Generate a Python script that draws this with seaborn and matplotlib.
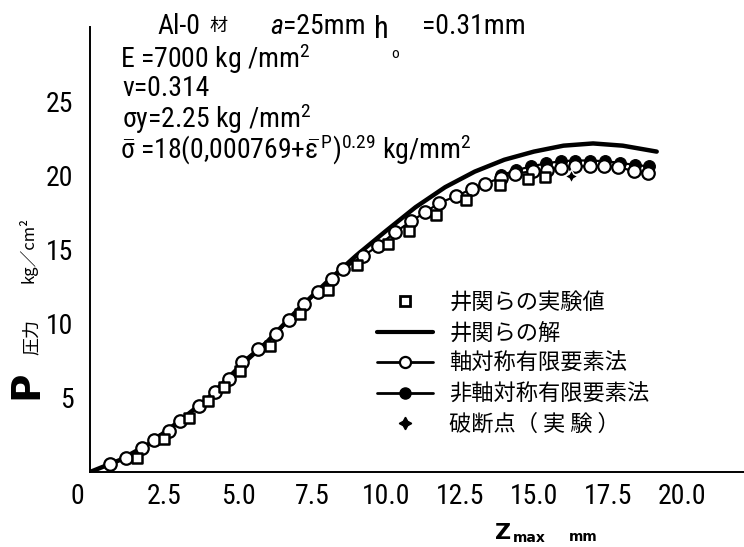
import numpy as np
import pandas as pd
import matplotlib
matplotlib.use("Agg")
import matplotlib.pyplot as plt
from matplotlib import font_manager
from matplotlib.transforms import ScaledTranslation
from matplotlib.lines import Line2D
import seaborn as sns

# ---- data -------------------------------------------------------------
# Experimental values (Iseki et al.)
exp_z = [1.58, 2.50, 3.35, 4.00, 4.54, 5.07, 6.08, 7.09, 8.05, 9.01,
         10.08, 10.79, 11.69, 12.70, 13.85, 14.81, 15.37]
exp_p = [0.97, 2.22, 3.64, 4.81, 5.71, 6.84, 8.49, 10.68, 12.26, 13.96,
         15.36, 16.28, 17.34, 18.36, 19.33, 19.72, 19.90]

# Analytical solution (Iseki et al.)
sol_z = [0, 1, 2, 3, 4, 5, 6, 7, 8, 9, 10, 11, 12, 13, 14, 15, 16, 17, 18, 19.15]
sol_p = [0, 0.8, 1.9, 3.4, 5.0, 7.0, 8.8, 10.9, 12.8, 14.6, 16.25, 17.85,
         19.2, 20.25, 21.05, 21.6, 22.0, 22.15, 22.0, 21.6]

# Axisymmetric FEM
axi_z = [0.68, 1.21, 1.75, 2.16, 2.67, 3.04, 3.69, 4.22, 4.70, 5.12, 5.67,
         6.28, 6.72, 7.24, 7.71, 8.19, 8.56, 9.23, 9.74, 10.30, 10.84, 11.32,
         11.80, 12.36, 12.90, 13.34, 13.89, 14.36, 14.98, 15.43, 15.90, 16.39,
         16.89, 17.36, 17.85, 18.39, 18.86]
axi_p = [0.54, 0.97, 1.61, 2.15, 2.78, 3.46, 4.47, 5.37, 6.28, 7.41, 8.31,
         9.28, 10.23, 11.31, 12.15, 12.99, 13.67, 14.57, 15.24, 16.15, 16.89,
         17.50, 18.14, 18.58, 19.09, 19.44, 19.83, 20.12, 20.28, 20.39, 20.51,
         20.60, 20.62, 20.62, 20.55, 20.28, 20.17]

# Non-axisymmetric FEM
nax_z = [13.9, 14.4, 14.9, 15.4, 15.9, 16.4, 16.9, 17.4, 17.9, 18.4, 18.9]
nax_p = [20.0, 20.35, 20.6, 20.8, 20.95, 21.0, 21.0, 20.95, 20.85, 20.7, 20.6]

# Fracture point (experiment)
brk_z = [16.25]
brk_p = [19.95]

x_ticks = [0, 2.5, 5.0, 7.5, 10.0, 12.5, 15.0, 17.5, 20.0]
x_tick_labels = ["0", "2.5", "5.0", "7.5", "10.0", "12.5", "15.0", "17.5", "20.0"]
y_ticks = [5, 10, 15, 20, 25]
y_tick_labels = ["5", "10", "15", "20", "25"]

legend_labels = ["井関らの実験値", "井関らの解", "軸対称有限要素法",
                 "非軸対称有限要素法", "破断点（ 実 験 ）"]


# ---- fonts ------------------------------------------------------------
def pick_narrow_font():
    """Return (family, stretch) of a narrow sans face if one is installed."""
    fl = font_manager.fontManager.ttflist
    names = {f.name for f in fl}
    for fam in ("Liberation Sans Narrow", "Roboto Condensed", "DejaVu Sans Condensed",
                "Noto Sans Condensed", "Open Sans Condensed"):
        if fam in names:
            return fam, "normal"
    for fam in ("DejaVu Sans", "Noto Sans", "Roboto", "Open Sans", "Liberation Sans"):
        for f in fl:
            if (f.name == fam and f.style == "normal"
                    and f.stretch in ("condensed", "semi-condensed")
                    and str(f.weight) in ("400", "normal", "regular", "book")):
                return fam, f.stretch
    return None, None


sns.set_theme(style="white")
NARROW, STRETCH = pick_narrow_font()
HAVE_NARROW = NARROW is not None
if not HAVE_NARROW:
    NARROW, STRETCH = "DejaVu Sans", "normal"
CJK = "Noto Sans CJK JP"

plt.rcParams["font.family"] = [NARROW, CJK, "DejaVu Sans"]
plt.rcParams["font.stretch"] = STRETCH
plt.rcParams["text.color"] = "black"
plt.rcParams["axes.labelcolor"] = "black"
plt.rcParams["mathtext.fontset"] = "custom"
pattern = NARROW + (":stretch=" + STRETCH if STRETCH != "normal" else "")
plt.rcParams["mathtext.rm"] = pattern
plt.rcParams["mathtext.it"] = pattern
plt.rcParams["mathtext.sf"] = pattern
plt.rcParams["mathtext.bf"] = pattern + ":bold"

# sizes tuned for the narrow face; a normal width face gets smaller text
TICK_FS = 20 if HAVE_NARROW else 17
NOTE_FS = 20 if HAVE_NARROW else 17

fig = plt.figure(figsize=(7.44, 5.47), dpi=100)
ax = fig.add_axes([90 / 744, 1 - 472 / 547, 1 - 90 / 744, (472 - 27) / 547])

solid = pd.DataFrame({"z": sol_z, "p": sol_p})
axi = pd.DataFrame({"z": axi_z, "p": axi_p})
nax = pd.DataFrame({"z": nax_z, "p": nax_p})
exp = pd.DataFrame({"z": exp_z, "p": exp_p})
brk = pd.DataFrame({"z": brk_z, "p": brk_p})

sns.lineplot(data=nax, x="z", y="p", ax=ax, color="black", lw=1.6,
             marker="o", markersize=8.5, markerfacecolor="black",
             markeredgecolor="black", sort=False, estimator=None, zorder=3)
sns.lineplot(data=solid, x="z", y="p", ax=ax, color="black", lw=3.2,
             sort=False, estimator=None, zorder=4)
sns.lineplot(data=axi, x="z", y="p", ax=ax, color="black", lw=1.6,
             marker="o", markersize=9, markerfacecolor="white",
             markeredgecolor="black", markeredgewidth=1.6,
             sort=False, estimator=None, zorder=5)
sns.scatterplot(data=exp, x="z", y="p", ax=ax, marker="s", s=60,
                facecolor="white", edgecolor="black", linewidth=1.8, zorder=6)
star = (4, 1, 0)
sns.scatterplot(data=brk, x="z", y="p", ax=ax, marker=star, s=90,
                color="black", linewidth=1.0, zorder=7)

ax.set_xlim(0, 22.1)
ax.set_ylim(0, 30.0)
ax.set_xticks(x_ticks)
ax.set_xticklabels(x_tick_labels)
ax.set_yticks(y_ticks)
ax.set_yticklabels(y_tick_labels)
ax.tick_params(axis="both", direction="in", length=10.5, width=1.2,
               color="black", labelsize=TICK_FS, labelcolor="black")
ax.tick_params(axis="y", pad=12)
ax.tick_params(axis="x", pad=8)
for side in ("top", "right"):
    ax.spines[side].set_visible(False)
for side in ("left", "bottom"):
    ax.spines[side].set_color("black")
    ax.spines[side].set_linewidth(1.4)
ax.set_xlabel("")
ax.set_ylabel("")
ax.grid(False)

# the "0" label sits left of the origin
lbl0 = ax.xaxis.get_major_ticks()[0].label1
lbl0.set_transform(lbl0.get_transform() + ScaledTranslation(-0.13, 0, fig.dpi_scale_trans))


# ---- axis titles ------------------------------------------------------
def fx(px):
    return px / 744


def fy(py):
    return 1 - py / 547


fig.text(fx(26), fy(385), "P", rotation=90, ha="center", va="center",
         fontsize=28, fontweight="bold", family="DejaVu Sans", fontstretch="normal")
fig.text(fx(32), fy(337), "圧力", rotation=90, ha="center", va="center",
         fontsize=13, family=CJK)
fig.text(fx(28), fy(250), "kg／cm²", rotation=90, ha="center", va="center",
         fontsize=12, family=[CJK, "DejaVu Sans"])

fig.text(fx(503), fy(533), "Z", ha="center", va="center", fontsize=16,
         fontweight="bold", family="DejaVu Sans", fontstretch="normal")
fig.text(fx(513), fy(538), "max", ha="left", va="center", fontsize=10,
         fontweight="bold", family="DejaVu Sans", fontstretch="normal")
fig.text(fx(583), fy(537), "mm", ha="center", va="center", fontsize=10,
         fontweight="bold", family="DejaVu Sans", fontstretch="normal")

# ---- material annotations --------------------------------------------
fs = NOTE_FS
fig.text(fx(157), fy(27), "Al-0", ha="left", va="center", fontsize=fs)
fig.text(fx(209), fy(26), "材", ha="left", va="center", fontsize=13, family=CJK)
fig.text(fx(270), fy(27), "a", ha="left", va="center", fontsize=fs, style="italic")
fig.text(fx(283), fy(27), "=25mm", ha="left", va="center", fontsize=fs)
fig.text(fx(374), fy(30), "h", ha="left", va="center", fontsize=fs + 2)
fig.text(fx(391), fy(54), "o", ha="left", va="center", fontsize=11)
fig.text(fx(422), fy(27), "=0.31mm", ha="left", va="center", fontsize=fs)
fig.text(fx(120), fy(59), r"E =7000 kg /mm$^2$", ha="left", va="center", fontsize=fs)
fig.text(fx(122), fy(89), "ν=0.314", ha="left", va="center", fontsize=fs)
fig.text(fx(122), fy(119), r"σy=2.25 kg /mm$^2$", ha="left", va="center", fontsize=fs)
fig.text(fx(120), fy(150),
         r"$\bar{\sigma}$ =18(0,000769+$\bar{\varepsilon}^{\,P}$)$^{0.29}$ kg/mm$^2$",
         ha="left", va="center", fontsize=fs)

# ---- legend -----------------------------------------------------------
handles = [
    Line2D([], [], ls="none", marker="s", markersize=7, markerfacecolor="white",
           markeredgecolor="black", markeredgewidth=2.0),
    Line2D([], [], color="black", lw=3.0),
    Line2D([], [], color="black", lw=2.0, marker="o", markersize=8,
           markerfacecolor="white", markeredgecolor="black", markeredgewidth=1.6),
    Line2D([], [], color="black", lw=2.0, marker="o", markersize=8,
           markerfacecolor="black", markeredgecolor="black"),
    Line2D([], [], ls="none", marker=star, markersize=9, color="black"),
]
leg = ax.legend(handles, legend_labels, loc="upper left",
                bbox_to_anchor=(fx(377), fy(291)), bbox_transform=fig.transFigure,
                frameon=False, prop={"family": CJK, "size": 16},
                handlelength=2.5, handletextpad=0.75, labelspacing=0.34,
                borderpad=0, borderaxespad=0)

fig.savefig("out.png", dpi=100)
